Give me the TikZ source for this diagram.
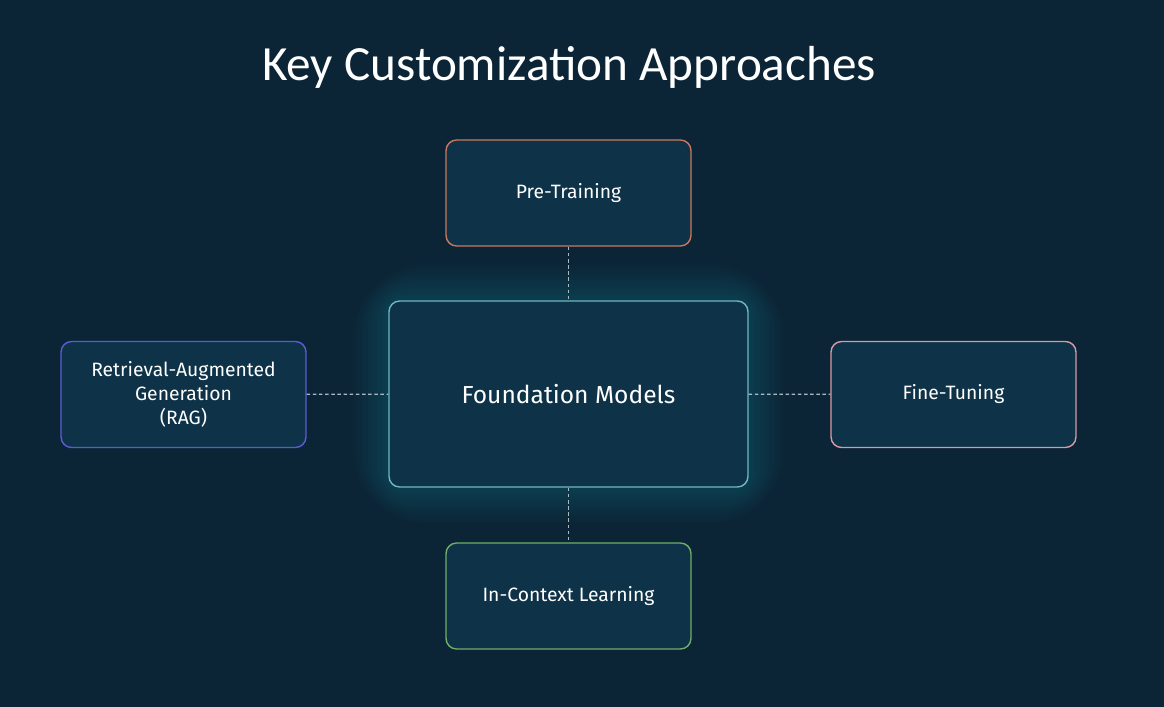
\documentclass[tikz,border=0pt]{standalone}
\usepackage{fontspec}
\setmainfont{Carlito}
\newfontfamily\boxfont{Fira Sans}
\usetikzlibrary{positioning}
\definecolor{bgblue}{HTML}{0B2536}
\definecolor{boxfill}{HTML}{0E3247}
\definecolor{glowteal}{HTML}{1E7A8E}
\definecolor{pretrain}{HTML}{C8785E}
\definecolor{ragblue}{HTML}{5A5CD6}
\definecolor{finetune}{HTML}{D99AA8}
\definecolor{incontext}{HTML}{6FAE6A}
\definecolor{foundedge}{HTML}{6FB7C2}
\definecolor{linkgrey}{HTML}{A9B9C4}

\begin{document}
\begin{tikzpicture}[x=0.02cm,y=-0.02cm,
	% Box styles
	approach/.style={rectangle,rounded corners=6pt,fill=boxfill,line width=0.8pt,
		minimum width=4.9cm,minimum height=2.12cm,text=white,font=\boxfont\fontsize{11}{13.5}\selectfont,align=center},
	core/.style={approach,draw=foundedge,minimum width=7.18cm,minimum height=3.72cm,
		font=\boxfont\fontsize{14}{16}\selectfont},
	% Connector style
	link/.style={draw=linkgrey,dashed,dash pattern=on 2pt off 1.5pt,line width=0.7pt}
	]
	%% Background and frame
	\fill[bgblue] (0,0) rectangle (1164,707);
	\useasboundingbox (0,0) rectangle (1164,707);
	%% Title
	\node (title) at (569,67) {\fontsize{28}{33}\selectfont\color{white}Key Customization Approaches};
	%% Glow behind the central box
	\foreach \g in {36,33,...,3}
		\fill[glowteal,opacity=0.03,rounded corners=\g pt+6pt] (389-\g,301-\g) rectangle (748+\g,487+\g);
	%% Boxes
	\node (fm) [core] at (568.5,394) {Foundation Models};
	\node (pt) [approach,draw=pretrain] at (568.5,193) {Pre-Training};
	\node (icl) [approach,draw=incontext] at (568.5,596) {In-Context Learning};
	\node (rag) [approach,draw=ragblue] at (183.5,394.5) {Retrieval-Augmented\\Generation\\(RAG)};
	\node (ft) [approach,draw=finetune] at (953.5,394.5) {Fine-Tuning};
	%% Dashed links
	\draw [link] (pt) -- (fm);
	\draw [link] (fm) -- (icl);
	\draw [link] (rag) -- (fm);
	\draw [link] (fm) -- (ft);
\end{tikzpicture}
\end{document}
